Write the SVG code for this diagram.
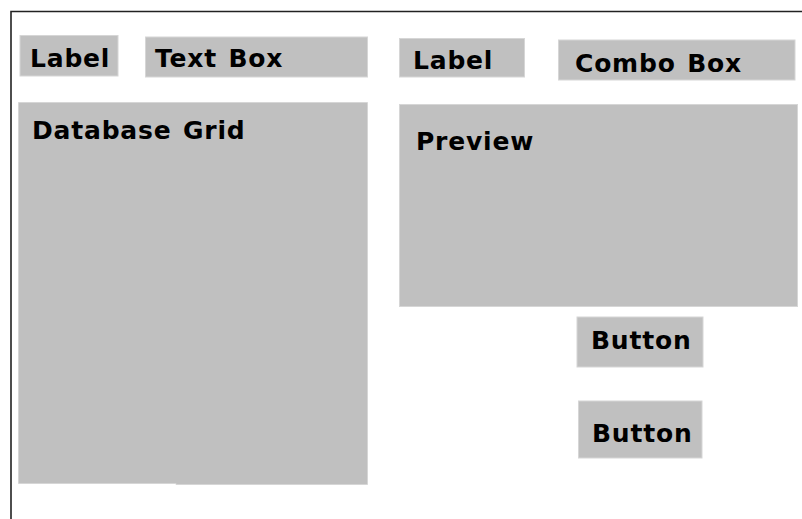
<svg xmlns="http://www.w3.org/2000/svg" width="802" height="519" viewBox="0 0 802 519">
<style>
.box{fill:#c0c0c0;stroke:#d6d6d6;stroke-width:1}
.t{font-family:"DejaVu Sans","Liberation Sans",sans-serif;font-weight:bold;font-size:25px;letter-spacing:0.8px;word-spacing:2px;fill:#000}
.frame{fill:none;stroke:#222;stroke-width:1.6}
</style>
<rect width="802" height="519" fill="#fff"/>
<g id="frame"><path class="frame" d="M11,519 V11.5 H802"/></g>
<g id="label1"><rect class="box" x="20" y="35.5" width="98" height="40.5"/><text class="t" x="30" y="67">Label</text></g>
<g id="textbox"><rect class="box" x="145.5" y="37" width="222" height="40"/><text class="t" x="155" y="67">Text Box</text></g>
<g id="grid"><path class="box" d="M18.5,102.5 H367.5 V484.5 H176 V483.5 H18.5 Z"/><text class="t" x="32" y="139">Database Grid</text></g>
<g id="label2"><rect class="box" x="399.5" y="38.5" width="125" height="38.5"/><text class="t" x="413" y="69">Label</text></g>
<g id="combobox"><rect class="box" x="558.5" y="40" width="236.5" height="40"/><text class="t" x="575" y="71.5">Combo Box</text></g>
<g id="preview"><rect class="box" x="399.5" y="104.5" width="398" height="202"/><text class="t" x="416" y="150">Preview</text></g>
<g id="button1"><rect class="box" x="577" y="317" width="126" height="50"/><text class="t" x="591" y="349">Button</text></g>
<g id="button2"><rect class="box" x="578.5" y="401" width="123.5" height="57"/><text class="t" x="592" y="441.5">Button</text></g>
<g id="connectors"></g>
</svg>
